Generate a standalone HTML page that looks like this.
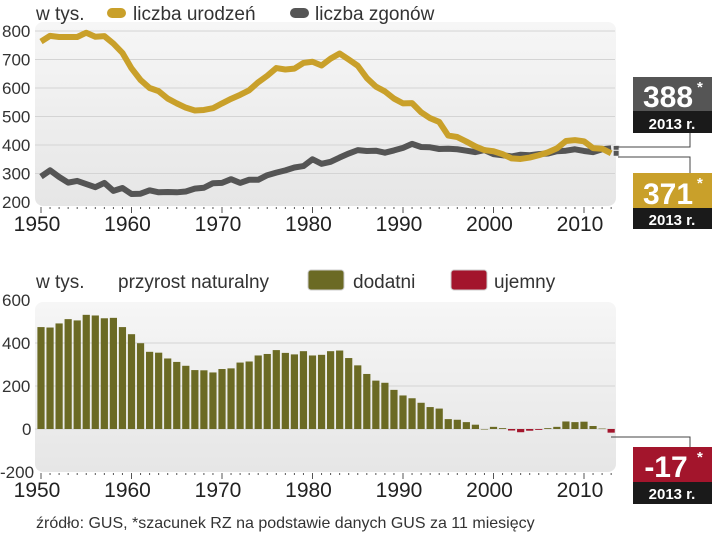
<!DOCTYPE html>
<html><head><meta charset="utf-8"><style>
body{margin:0;background:#fff;width:720px;height:535px;overflow:hidden}
svg{display:block;font-family:"Liberation Sans Narrow","Liberation Sans",sans-serif}
</style></head><body>
<svg id="c" width="720" height="535" viewBox="0 0 720 535">
<defs>
<linearGradient id="bg" x1="0" y1="0" x2="0" y2="1"><stop offset="0" stop-color="#f6f6f6"/><stop offset="1" stop-color="#e6e6e6"/></linearGradient>
</defs>
<rect x="35" y="22" width="581" height="184" rx="8" fill="url(#bg)"/>
<rect x="35" y="302" width="581" height="170" rx="8" fill="url(#bg)"/>
<g font-size="19" fill="#333">
<text x="36" y="20">w tys.</text>
<rect x="107" y="8" width="19" height="10" rx="5" fill="#c9a02a"/>
<text x="133" y="20">liczba urodzeń</text>
<rect x="290" y="8" width="19" height="10" rx="5" fill="#555"/>
<text x="315" y="20">liczba zgonów</text>
</g>
<g font-size="19" fill="#333">
<text x="36" y="288">w tys.</text>
<text x="118" y="288">przyrost naturalny</text>
<rect x="308" y="270" width="36" height="20" rx="3" fill="#6b6a24" stroke="#ccc"/>
<text x="353" y="288">dodatni</text>
<rect x="451" y="270" width="36" height="20" rx="3" fill="#a3152c" stroke="#ccc"/>
<text x="494" y="288">ujemny</text>
</g>
<g id="topg"></g><g id="botg"></g>
<g>
<polyline points="618,147 690,147 690,133" fill="none" stroke="#444" stroke-width="1"/>
<rect x="633" y="77" width="79" height="35" fill="#555"/>
<rect x="633" y="111" width="79" height="22" fill="#1a1a1a"/>
<text x="668" y="107" text-anchor="middle" font-size="30" font-weight="bold" fill="#fff">388</text><text x="697" y="92" font-size="15" font-weight="bold" fill="#fff">*</text>
<text x="672" y="129" text-anchor="middle" font-size="15" font-weight="bold" fill="#fff">2013 r.</text>
</g>
<g>
<polyline points="618,157 690,157 690,173" fill="none" stroke="#444" stroke-width="1"/>
<rect x="633" y="173" width="79" height="36" fill="#c9a02a"/>
<rect x="633" y="208" width="79" height="21" fill="#1a1a1a"/>
<text x="668" y="204" text-anchor="middle" font-size="30" font-weight="bold" fill="#fff">371</text><text x="697" y="188" font-size="15" font-weight="bold" fill="#fff">*</text>
<text x="672" y="225" text-anchor="middle" font-size="15" font-weight="bold" fill="#fff">2013 r.</text>
</g>
<g>
<polyline points="611,437 690,437 690,447" fill="none" stroke="#444" stroke-width="1"/>
<rect x="633" y="447" width="79" height="36" fill="#a3152c"/>
<rect x="633" y="482" width="79" height="22" fill="#1a1a1a"/>
<text x="666" y="477" text-anchor="middle" font-size="30" font-weight="bold" fill="#fff">-17</text><text x="697" y="462" font-size="15" font-weight="bold" fill="#fff">*</text>
<text x="672" y="499" text-anchor="middle" font-size="15" font-weight="bold" fill="#fff">2013 r.</text>
</g>
<text x="36" y="528" font-size="16" fill="#333">źródło: GUS, *szacunek RZ na podstawie danych GUS za 11 miesięcy</text>
</svg>
<script>
const years=[];for(let y=1950;y<=2013;y++)years.push(y);
const births=[763,783,779,779,779,794,780,782,756,723,669,628,600,589,563,546,531,521,523,529,546,562,576,592,620,643,670,665,668,688,692,679,703,721,700,678,635,605,588,563,546,547,515,494,481,433,428,412,395,382,378,368,353,351,356,364,374,388,414,417,413,389,387,371];
const deaths=[289,311,288,268,274,263,252,267,239,249,228,229,241,234,235,234,237,247,250,266,267,280,267,278,278,294,303,311,321,326,350,334,341,356,370,382,379,380,373,381,390,404,393,392,386,387,385,380,375,382,368,364,360,366,364,368,370,378,380,385,379,375,385,388];
const increase=[474,472,491,511,505,531,528,515,517,474,441,399,359,355,328,312,294,274,273,263,279,282,309,314,342,349,367,354,347,362,342,345,362,365,330,296,256,225,215,182,156,143,122,102,95,46,43,32,20,0,10,4,-7,-15,-8,-4,4,10,35,32,34,14,2,-17];
const topTicks=[200,300,400,500,600,700,800];
const botTicks=[-200,0,200,400,600];
const decades=[1950,1960,1970,1980,1990,2000,2010];
const NS="http://www.w3.org/2000/svg";
function mk(p,t,a){const e=document.createElementNS(NS,t);for(const k in a)e.setAttribute(k,a[k]);p.appendChild(e);return e;}
const xs=yr=>41+(yr-1950)*9.05;
const yT=v=>202-(v-200)*0.285;
const yB=v=>429-v*0.215;
const gTop=document.getElementById('topg'),gBot=document.getElementById('botg');
topTicks.forEach(v=>{
 if(v>200){const l=mk(gTop,'line',{x1:35,x2:615,y1:yT(v),y2:yT(v),stroke:'#d4d4d4','stroke-width':1});
 
 }
 const t=mk(gTop,'text',{x:2,y:yT(v)+6,'font-size':17,fill:'#333'});t.textContent=v;
 
 
});
botTicks.forEach(v=>{
 if(v>-200&&v<600){const l=mk(gBot,'line',{x1:35,x2:615,y1:yB(v),y2:yB(v),stroke:'#d4d4d4','stroke-width':1});
 
 }
 const t=mk(gBot,'text',{x:v<0?0:(v==0?22:2),y:yB(v)+6,'font-size':17,fill:'#333'});t.textContent=v;
 
 
});
[[gTop,207],[gBot,473]].forEach(([g,by])=>{
 years.forEach(yr=>{const maj=yr%10==0;const l=mk(g,'line',{x1:xs(yr),x2:xs(yr),y1:by,y2:by+(maj?6:2),stroke:'#555','stroke-width':1});
 
 });
 decades.forEach(d=>{const t=mk(g,'text',{x:xs(d)-4,y:by+24,'font-size':21,'text-anchor':'middle',fill:'#222'});t.textContent=d;
 
 });
});
const dp=mk(gTop,'polyline',{points:deaths.map((v,i)=>xs(years[i])+','+yT(v)).join(' '),fill:'none',stroke:'#555','stroke-width':6,'stroke-linejoin':'round'});


const bp=mk(gTop,'polyline',{points:births.map((v,i)=>xs(years[i])+','+yT(v)).join(' '),fill:'none',stroke:'#c9a02a','stroke-width':6,'stroke-linejoin':'round'});


[[deaths,'deaths-end-marker'],[births,'births-end-marker']].forEach(([s,n])=>{
 const i=s.length-1;const r=mk(gTop,'rect',{x:xs(years[i])+2,y:yT(s[i])-3,width:6,height:6,fill:'#555',stroke:'#eee'});
 
 
});
increase.forEach((v,i)=>{
 const y0=yB(0),y1=yB(v);
 const r=mk(gBot,'rect',{x:xs(years[i])-3.6,y:Math.min(y0,y1),width:7.2,height:Math.max(Math.abs(y1-y0),0.5),fill:v>=0?'#6b6a24':'#a3152c'});
 
 
});
</script>
</body></html>
